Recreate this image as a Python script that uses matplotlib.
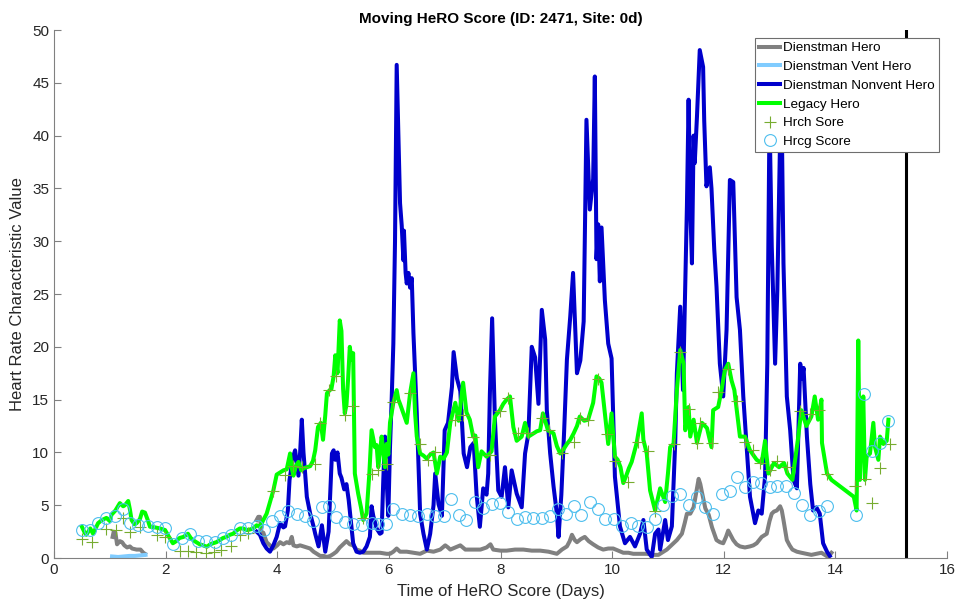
import numpy as np
import matplotlib.pyplot as plt

plt.rcParams['font.family'] = ['Liberation Sans', 'DejaVu Sans']

# Legacy HeRO score (days, value)
legacy_t = [0.50, 0.55, 0.58, 0.65, 0.70, 0.79, 0.86, 0.94, 1.00, 1.03, 1.10, 1.18, 1.24, 1.27,
            1.33, 1.36, 1.39, 1.44, 1.48, 1.54, 1.58, 1.63, 1.68, 1.72, 1.81, 1.90, 1.99, 2.06,
            2.13, 2.19, 2.25, 2.32, 2.40, 2.45, 2.49, 2.55, 2.61, 2.67, 2.74, 2.80, 2.85, 2.91,
            2.97, 3.03, 3.09, 3.15, 3.21, 3.27, 3.33, 3.39, 3.45, 3.51, 3.57, 3.63, 3.69, 3.75,
            3.81, 3.87, 3.93, 3.99, 4.05, 4.11, 4.17, 4.23, 4.26, 4.29, 4.34, 4.38, 4.43, 4.47,
            4.53, 4.59, 4.64, 4.68, 4.73, 4.78, 4.82, 4.86, 4.89, 4.94, 4.97, 5.01, 5.04, 5.08,
            5.12, 5.15, 5.18, 5.21, 5.24, 5.27, 5.30, 5.33, 5.36, 5.39, 5.45, 5.50, 5.54, 5.60,
            5.65, 5.69, 5.75, 5.78, 5.81, 5.84, 5.87, 5.90, 5.93, 5.96, 5.99, 6.02, 6.08, 6.14,
            6.17, 6.20, 6.26, 6.32, 6.38, 6.44, 6.47, 6.50, 6.56, 6.62, 6.68, 6.74, 6.80, 6.86,
            6.92, 6.98, 7.04, 7.10, 7.19, 7.25, 7.33, 7.39, 7.45, 7.51, 7.55, 7.60, 7.66, 7.75,
            7.84, 7.90, 7.99, 8.05, 8.11, 8.17, 8.23, 8.29, 8.38, 8.44, 8.50, 8.59, 8.65, 8.71,
            8.76, 8.85, 8.95, 9.01, 9.07, 9.13, 9.19, 9.25, 9.31, 9.37, 9.42, 9.50, 9.57, 9.66,
            9.72, 9.77, 9.81, 9.87, 9.93, 9.99, 10.05, 10.10, 10.15, 10.20, 10.26, 10.30, 10.35,
            10.44, 10.53, 10.56, 10.62, 10.68, 10.77, 10.86, 10.95, 11.00, 11.04, 11.10, 11.16,
            11.22, 11.28, 11.31, 11.37, 11.40, 11.46, 11.52, 11.61, 11.70, 11.78, 11.81, 11.90,
            11.96, 12.02, 12.08, 12.14, 12.19, 12.29, 12.38, 12.47, 12.59, 12.68, 12.74, 12.80,
            12.90, 12.99, 13.08, 13.14, 13.23, 13.33, 13.39, 13.48, 13.57, 13.63, 13.69, 13.75,
            13.76, 13.85, 13.93, 14.33, 14.38, 14.41, 14.44, 14.47, 14.50, 14.53, 14.56, 14.62,
            14.68, 14.71, 14.77, 14.80, 14.86, 14.92, 14.95]
legacy_v = [2.96, 2.4, 2.2, 2.8, 2.3, 3.3, 3.6, 3.8, 3.5, 4.1, 4.5, 5.2, 4.9, 5.0,
            5.4, 4.6, 3.6, 3.2, 3.3, 3.7, 4.4, 4.3, 3.6, 2.96, 2.9, 2.8, 2.65, 2.0,
            1.4, 1.6, 1.9, 2.0, 2.3, 1.9, 1.7, 1.5, 1.3, 1.2, 1.07, 1.3, 1.4, 1.5,
            1.7, 1.9, 2.0, 2.2, 2.3, 2.6, 2.8, 2.8, 2.65, 2.7, 2.8, 3.1, 2.96, 3.6,
            4.2, 5.3, 6.4, 7.9, 8.1, 8.3, 8.4, 9.9, 8.5, 7.8, 8.8, 9.1, 8.3, 8.5,
            8.6, 8.7, 9.2, 10.2, 12.4, 12.8, 11.2, 13.5, 15.6, 15.9, 16.0, 17.2, 19.2, 17.5,
            22.5, 21.5, 16.0, 13.7, 14.5, 17.0, 20.0, 18.8, 19.4, 8.0, 6.1, 4.8, 3.6, 4.2,
            8.0, 12.1, 10.5, 10.7, 8.6, 10.0, 11.5, 10.2, 8.6, 10.8, 9.8, 12.8, 14.7, 15.9,
            15.0, 14.6, 13.7, 12.8, 15.6, 17.5, 13.7, 11.5, 9.9, 9.7, 9.4, 9.8, 10.0, 8.0,
            9.6, 9.4, 10.0, 12.8, 14.7, 13.0, 16.6, 13.8, 13.1, 11.5, 11.6, 8.6, 10.1, 9.6,
            10.1, 13.4, 14.0, 14.6, 15.0, 15.3, 12.4, 11.1, 11.5, 12.8, 11.5, 11.8, 12.0, 12.1,
            13.7, 12.1, 11.8, 10.6, 9.9, 10.3, 10.8, 11.2, 11.8, 12.5, 13.4, 13.0, 13.1, 14.7,
            17.2, 17.0, 16.6, 13.7, 10.8, 13.7, 9.6, 9.3, 8.6, 7.1, 7.9, 8.5, 9.1,
            10.9, 13.7, 11.2, 9.9, 6.4, 4.5, 6.6, 5.3, 8.0, 10.5, 10.8, 15.9,
            19.7, 18.4, 12.1, 14.3, 11.5, 13.1, 10.9, 12.8, 12.3, 10.5, 14.0, 14.3,
            15.9, 17.8, 18.4, 16.8, 15.9, 11.5, 11.5, 10.2, 9.3, 9.0, 11.1, 8.0,
            9.0, 8.6, 9.0, 8.0, 7.4, 11.3, 14.0, 12.5, 13.4, 15.3, 13.1, 15.0,
            10.9, 8.0, 7.4, 5.8, 4.5, 20.6, 7.4, 11.9, 15.3, 7.4, 9.6, 9.9,
            12.8, 10.5, 9.3, 11.5, 10.8, 11.1, 13.1]

# Dienstman nonvent HeRO
nonvent_t = [3.63, 3.69, 3.75, 3.81, 3.87, 3.93, 3.99, 4.05, 4.11, 4.14, 4.19, 4.22, 4.28, 4.32,
             4.35, 4.38, 4.41, 4.44, 4.47, 4.50, 4.53, 4.59, 4.65, 4.68, 4.74, 4.80, 4.86, 4.92,
             4.98, 5.01, 5.04, 5.08, 5.12, 5.15, 5.20, 5.24, 5.28, 5.30, 5.36, 5.42, 5.48, 5.54,
             5.60, 5.66, 5.69, 5.72, 5.78, 5.84, 5.87, 5.90, 5.93, 5.96, 5.99, 6.02, 6.05, 6.08,
             6.11, 6.14, 6.17, 6.20, 6.23, 6.26, 6.27, 6.30, 6.32, 6.35, 6.38, 6.41, 6.44, 6.50,
             6.56, 6.62, 6.68, 6.74, 6.80, 6.83, 6.89, 6.95, 7.00, 7.06, 7.13, 7.16, 7.22, 7.28,
             7.34, 7.40, 7.46, 7.52, 7.57, 7.63, 7.69, 7.75, 7.78, 7.81, 7.85, 7.90, 7.96, 8.02,
             8.08, 8.14, 8.20, 8.29, 8.38, 8.44, 8.50, 8.56, 8.62, 8.68, 8.74, 8.80, 8.83, 8.89,
             8.95, 9.01, 9.04, 9.09, 9.14, 9.19, 9.25, 9.30, 9.37, 9.43, 9.49, 9.54, 9.60, 9.66,
             9.69, 9.72, 9.75, 9.78, 9.81, 9.87, 9.93, 9.99, 10.05, 10.14, 10.23, 10.32, 10.41,
             10.50, 10.56, 10.62, 10.71, 10.77, 10.83, 10.86, 10.95, 11.00, 11.07, 11.13, 11.16,
             11.22, 11.27, 11.34, 11.37, 11.40, 11.43, 11.46, 11.48, 11.52, 11.57, 11.63, 11.65,
             11.69, 11.75, 11.78, 11.83, 11.87, 11.93, 11.99, 12.05, 12.11, 12.17, 12.23, 12.29,
             12.35, 12.41, 12.47, 12.56, 12.62, 12.68, 12.74, 12.78, 12.82, 12.86, 12.92, 12.96,
             13.01, 13.04, 13.07, 13.13, 13.19, 13.25, 13.31, 13.37, 13.40, 13.43, 13.49, 13.55,
             13.60, 13.66, 13.72, 13.78, 13.85, 13.90]
nonvent_v = [2.5, 2.2, 1.4, 0.9, 0.6, 1.2, 2.0, 3.3, 2.9, 3.0, 4.5, 7.4, 9.5, 10.2,
             9.0, 7.8, 10.0, 13.1, 10.0, 8.0, 5.8, 4.2, 3.0, 2.3, 1.1, 3.1, 0.6, 2.5,
             9.9, 10.2, 9.3, 10.0, 8.0, 7.6, 6.5, 7.0, 5.5, 4.5, 1.4, 0.6, 0.5, 0.6,
             1.1, 2.0, 4.9, 4.0, 2.8, 2.3, 2.4, 7.4, 11.5, 7.4, 4.0, 10.5, 15.0, 20.3,
             30.0, 46.7, 40.0, 33.6, 31.5, 28.2, 31.0, 27.0, 26.0, 27.0, 25.6, 26.5, 21.3, 13.7,
             4.2, 2.3, 0.8, 2.3, 5.0, 8.0, 5.1, 4.0, 12.1, 12.8, 16.2, 19.5, 17.0, 15.8,
             9.9, 8.6, 10.5, 10.9, 6.1, 2.96, 6.6, 6.0, 8.0, 15.6, 22.7, 13.1, 6.4, 5.8,
             8.6, 4.8, 8.3, 6.1, 4.8, 9.9, 11.8, 20.0, 19.0, 14.6, 23.5, 20.7, 14.0, 9.9,
             6.8, 4.2, 2.0, 6.0, 12.0, 18.8, 22.9, 27.0, 17.5, 18.7, 22.4, 41.5, 33.0, 35.9,
             45.6, 28.3, 31.6, 26.2, 31.3, 24.4, 20.3, 18.9, 7.7, 3.0, 1.4, 2.0, 1.1,
             2.3, 3.6, 0.8, 0.1, 2.3, 2.7, 0.8, 3.6, 1.7, 3.0, 10.9, 17.5,
             23.8, 15.9, 33.3, 43.4, 33.3, 27.9, 40.0, 37.4, 41.8, 48.1, 46.5, 41.4,
             35.2, 37.0, 35.0, 29.2, 25.7, 18.4, 15.3, 21.6, 35.8, 35.6, 24.7, 21.6,
             15.3, 10.5, 5.8, 3.3, 4.5, 4.2, 7.7, 18.4, 42.0, 29.5, 18.4, 25.4,
             40.0, 41.0, 27.9, 15.3, 12.1, 7.4, 6.6, 18.4, 17.0, 18.0, 11.5, 7.0,
             4.5, 4.8, 4.2, 1.4, 0.6, 0.2]

# Dienstman HeRO (two recording segments, NaN marks the gap)
hero_t = [1.05, 1.07, 1.10, 1.13, 1.18, 1.22, 1.26, 1.31, 1.36, 1.40, 1.48, 1.55, 1.60, 1.63,
          1.64,
          3.63, 3.66, 3.69, 3.72, 3.75, 3.81, 3.87, 3.93, 4.00, 4.05, 4.11, 4.17, 4.22, 4.26,
          4.29, 4.35, 4.41, 4.47, 4.53, 4.59, 4.65, 4.71, 4.77, 4.83, 4.89, 4.95, 5.01, 5.06,
          5.12, 5.18, 5.24, 5.30, 5.36, 5.42, 5.48, 5.54, 5.60, 5.72, 5.84, 5.96, 6.02, 6.08,
          6.14, 6.20, 6.32, 6.44, 6.56, 6.68, 6.80, 6.92, 7.01, 7.06, 7.10, 7.19, 7.28, 7.37,
          7.50, 7.64, 7.75, 7.82, 7.87, 8.00, 8.11, 8.26, 8.41, 8.56, 8.71, 8.86, 9.01, 9.10,
          9.19, 9.24, 9.28, 9.33, 9.37, 9.44, 9.51, 9.58, 9.66, 9.75, 9.84, 9.93, 10.02, 10.11,
          10.20, 10.29, 10.38, 10.50, 10.62, 10.74, 10.83, 10.92, 10.98, 11.04, 11.10, 11.16,
          11.25, 11.30, 11.34, 11.40, 11.46, 11.50, 11.55, 11.58, 11.61, 11.67, 11.73, 11.79,
          11.87, 11.93, 11.99, 12.04, 12.08, 12.12, 12.17, 12.23, 12.29, 12.38, 12.47, 12.53,
          12.59, 12.68, 12.77, 12.82, 12.86, 12.90, 12.95, 13.01, 13.04, 13.07, 13.13, 13.18,
          13.23, 13.31, 13.39, 13.48, 13.57, 13.66, 13.75, 13.81, 13.87, 13.93]
hero_v = [2.0, 2.5, 2.4, 1.3, 1.6, 1.5, 1.2, 1.0, 1.1, 0.9, 0.8, 0.8, 0.5, 0.4,
          np.nan,
          3.6, 3.9, 3.9, 2.2, 2.4, 1.5, 1.2, 0.9, 1.2, 1.5, 1.3, 1.5, 1.4, 2.0,
          1.2, 1.1, 1.2, 1.1, 1.0, 0.9, 0.6, 0.4, 0.2, 0.2, 0.1, 0.2, 0.4, 0.6,
          1.0, 1.3, 1.6, 1.3, 1.2, 0.8, 0.7, 0.5, 0.5, 0.5, 0.5, 0.4, 0.4, 0.6,
          0.9, 0.6, 0.6, 0.5, 0.4, 0.7, 0.6, 0.8, 1.2, 1.0, 0.8, 1.0, 1.2, 0.8,
          0.8, 0.8, 1.0, 1.3, 0.8, 0.7, 0.7, 0.8, 0.8, 0.7, 0.7, 0.6, 0.4, 0.8,
          1.1, 1.6, 2.2, 1.7, 1.5, 1.8, 2.0, 1.6, 1.3, 1.0, 0.8, 0.9, 0.9, 0.7,
          0.5, 0.5, 0.4, 0.4, 0.4, 0.3, 0.3, 0.6, 0.8, 1.1, 1.4, 1.7,
          2.3, 3.3, 4.2, 4.2, 4.8, 6.0, 7.5, 7.0, 6.2, 4.7, 4.1, 2.9,
          1.7, 1.5, 1.4, 2.0, 2.6, 2.2, 1.7, 1.3, 1.1, 1.0, 1.1, 1.2,
          1.4, 2.0, 2.3, 3.5, 4.2, 4.4, 4.5, 4.9, 4.5, 3.6, 1.7, 1.2,
          0.8, 0.6, 0.5, 0.4, 0.3, 0.4, 0.5, 0.3, 0.1, 0.5]

# Dienstman vent HeRO
vent_t = [1.04, 1.15, 1.25, 1.35, 1.45, 1.55, 1.64]
vent_v = [0.15, 0.1, 0.15, 0.2, 0.2, 0.25, 0.3]

# Hrch score samples
hrch_t = [0.50, 0.68, 0.94, 1.11, 1.24, 1.37, 1.54, 1.84, 1.99, 2.26, 2.40, 2.55, 2.72, 2.87,
          3.00, 3.18, 3.33, 3.48, 3.93, 4.14, 4.29, 4.45, 4.67, 4.77, 4.92, 5.06, 5.21, 5.36,
          5.54, 5.69, 5.81, 5.96, 6.08, 6.38, 6.56, 6.70, 6.83, 7.19, 7.33, 7.51, 7.81, 7.99,
          8.14, 8.32, 8.50, 8.74, 8.86, 9.10, 9.31, 9.43, 9.57, 9.75, 9.90, 10.05, 10.29, 10.47,
          10.65, 10.77, 11.10, 11.22, 11.37, 11.52, 11.58, 11.79, 11.90, 12.08, 12.23, 12.38,
          12.53, 12.65, 12.83, 12.95, 13.13, 13.37, 13.55, 13.70, 13.85, 14.35, 14.53, 14.65,
          14.80, 14.97]
hrch_v = [1.77, 1.49, 2.75, 2.65, 3.76, 2.49, 2.96, 2.18, 2.0, 0.7, 0.7, 0.6, 0.5, 0.6,
          0.8, 1.1, 2.2, 2.4, 6.3, 7.9, 8.7, 8.6, 8.9, 12.8, 15.9, 17.2, 13.5, 14.4,
          3.8, 8.0, 8.3, 8.9, 14.8, 15.6, 10.8, 9.3, 10.0, 13.1, 13.5, 11.5, 9.8, 13.9,
          15.2, 11.8, 11.8, 13.3, 12.1, 9.9, 11.0, 13.3, 13.1, 17.0, 11.7, 9.2, 7.2, 11.0,
          10.1, 4.5, 10.8, 19.5, 14.1, 10.9, 12.8, 10.9, 15.7, 17.9, 14.9, 11.0,
          10.2, 9.0, 8.3, 9.2, 8.6, 13.9, 13.6, 14.0, 8.0, 6.8, 7.5, 5.2,
          8.5, 10.8]

# Hrcg score samples
hrcg_t = [0.50, 0.64, 0.79, 0.94, 1.09, 1.24, 1.36, 1.51, 1.69, 1.84, 1.99, 2.14, 2.29, 2.44,
          2.58, 2.73, 2.88, 3.03, 3.18, 3.33, 3.48, 3.63, 3.76, 3.90, 4.05, 4.20, 4.35, 4.50,
          4.64, 4.80, 4.93, 5.06, 5.21, 5.36, 5.51, 5.69, 5.81, 5.95, 6.08, 6.23, 6.38, 6.53,
          6.68, 6.83, 6.98, 7.12, 7.25, 7.39, 7.54, 7.69, 7.84, 7.99, 8.14, 8.29, 8.44, 8.59,
          8.74, 8.88, 9.03, 9.18, 9.31, 9.45, 9.60, 9.75, 9.88, 10.03, 10.18, 10.33, 10.47,
          10.62, 10.77, 10.92, 11.07, 11.22, 11.37, 11.52, 11.67, 11.81, 11.96, 12.11, 12.23,
          12.38, 12.53, 12.66, 12.82, 12.96, 13.11, 13.26, 13.40, 13.55, 13.70, 13.85, 14.37,
          14.51, 14.65, 14.80, 14.95]
hrcg_v = [2.65, 2.65, 3.3, 3.8, 4.0, 4.6, 3.3, 3.1, 3.0, 2.9, 2.8, 1.3, 1.9, 2.3,
          1.6, 1.6, 1.5, 1.9, 2.2, 2.8, 2.8, 3.0, 2.65, 3.5, 4.0, 4.5, 4.2, 4.0,
          3.5, 4.8, 4.9, 3.9, 3.4, 3.2, 3.1, 3.3, 3.2, 3.2, 4.6, 4.2, 4.1, 4.0,
          4.2, 4.0, 4.0, 5.6, 4.1, 3.6, 5.3, 4.7, 5.1, 5.2, 4.4, 3.7, 3.9, 3.8,
          3.8, 4.0, 4.6, 4.2, 4.9, 4.1, 5.3, 4.6, 3.7, 3.7, 3.0, 3.3, 3.0,
          2.9, 3.7, 5.0, 5.9, 6.1, 5.0, 5.8, 4.8, 4.2, 6.1, 6.3, 7.7,
          6.7, 7.2, 7.1, 6.7, 6.8, 6.8, 6.2, 5.0, 4.1, 4.5, 4.9, 4.1,
          15.5, 10.1, 10.9, 13.0]

# current time marker
now_day = 15.26

fig = plt.figure(figsize=(9.59, 6.10), dpi=100)
ax = fig.add_axes([0.0563, 0.0852, 0.9312, 0.8656])

lw = 2.9
ax.plot(hero_t, hero_v, color='#808080', lw=lw, label='Dienstman Hero')
ax.plot(vent_t, vent_v, color='#80CCFF', lw=lw, label='Dienstman Vent Hero')
ax.plot(nonvent_t, nonvent_v, color='#0000CC', lw=lw, label='Dienstman Nonvent Hero')
ax.plot(legacy_t, legacy_v, color='#00FF00', lw=lw, label='Legacy Hero')
ax.plot(hrch_t, hrch_v, ls='none', marker='+', ms=9, mew=0.8, color='#77AC30',
        label='Hrch Sore')
ax.plot(hrcg_t, hrcg_v, ls='none', marker='o', ms=8.5, mew=0.8, mfc='none',
        mec='#4DBEEE', label='Hrcg Score')
ax.axvline(now_day, color='black', lw=2.2)

ax.set_xlim(0, 16)
ax.set_ylim(0, 50)
ax.set_xticks(np.arange(0, 17, 2))
ax.set_yticks(np.arange(0, 51, 5))
for side in ['top', 'right']:
    ax.spines[side].set_visible(False)
for side in ['left', 'bottom']:
    ax.spines[side].set_color('#808080')
    ax.spines[side].set_linewidth(0.8)
ax.tick_params(direction='in', length=5, width=0.8, color='#808080',
               labelsize=11, labelcolor='#262626')

ax.set_title('Moving HeRO Score (ID: 2471, Site: 0d)', fontsize=11, fontweight='bold', pad=5)
ax.set_xlabel('Time of HeRO Score (Days)', fontsize=12, color='#262626', labelpad=5)
ax.set_ylabel('Heart Rate Characteristic Value', fontsize=12, color='#262626', labelpad=5)

leg = ax.legend(loc='upper left', bbox_to_anchor=(0.787, 0.938),
                bbox_transform=fig.transFigure, fontsize=9.7, fancybox=False,
                framealpha=1, edgecolor='#6e6e6e', handlelength=1.6,
                handletextpad=0.2, labelspacing=0.47, borderpad=0.3,
                borderaxespad=0)
leg.get_frame().set_linewidth(0.8)

fig.savefig('out.png', dpi=100)
